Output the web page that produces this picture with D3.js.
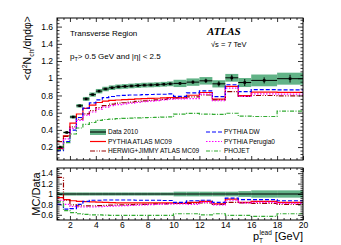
<!DOCTYPE html>
<html>
<head>
<meta charset="utf-8">
<script src="https://cdn.jsdelivr.net/npm/d3@7"></script>
<style>
body { margin: 0; background: #fff; }
text { font-family: "Liberation Sans", Arial, sans-serif; fill: #000; }
</style>
</head>
<body>
<script>
// bin edges in pT lead [GeV]
const binEdges = [1, 1.5, 2, 2.5, 3, 3.5, 4, 4.5, 5, 5.5, 6, 6.5, 7, 7.5, 8, 8.5, 9, 9.5, 10,
                  11, 12, 13, 14, 15, 16, 18, 20]

// data 2010, <d2N/dEta dPhi>
const dataVals = [0.20, 0.37, 0.55, 0.68, 0.76, 0.81, 0.85, 0.875, 0.89, 0.90, 0.905, 0.91, 0.915, 0.92, 0.922, 0.925, 0.93, 0.935,
                  0.94, 0.955, 0.97, 0.935, 1.005, 0.95, 0.975, 0.995]
const dataStat = [0.003, 0.003, 0.003, 0.003, 0.003, 0.004, 0.004, 0.004, 0.005, 0.005, 0.006, 0.006, 0.007, 0.008, 0.009, 0.01, 0.011, 0.012,
                  0.015, 0.02, 0.025, 0.03, 0.035, 0.04, 0.035, 0.045]
// relative total uncertainty (green band)
const dataSyst = [0.03, 0.03, 0.03, 0.03, 0.03, 0.03, 0.03, 0.03, 0.03, 0.03, 0.03, 0.03, 0.03, 0.03, 0.03, 0.03, 0.03, 0.03,
                  0.045, 0.045, 0.045, 0.045, 0.045, 0.055, 0.07, 0.07]

// MC / Data ratios (lower panel)
const ratioMC09 = [0.93, 0.89, 0.87, 0.86, 0.855, 0.85, 0.845, 0.84, 0.835, 0.83, 0.83, 0.83, 0.83, 0.83, 0.83, 0.83, 0.83, 0.83,
                   0.82, 0.84, 0.86, 0.81, 0.90, 0.84, 0.86, 0.84]
const ratioDW = [0.80, 0.71, 0.72, 0.80, 0.86, 0.88, 0.88, 0.885, 0.885, 0.885, 0.885, 0.885, 0.88, 0.88, 0.88, 0.88, 0.875, 0.875,
                 0.84, 0.87, 0.88, 0.84, 0.92, 0.89, 0.89, 0.87]
const ratioPerugia0 = [0.88, 0.80, 0.76, 0.75, 0.75, 0.75, 0.755, 0.76, 0.765, 0.77, 0.775, 0.78, 0.785, 0.79, 0.795, 0.80, 0.805, 0.81,
                       0.81, 0.80, 0.84, 0.79, 0.88, 0.83, 0.84, 0.82]
const ratioHerwig = [1.32, 0.88, 0.79, 0.77, 0.77, 0.77, 0.775, 0.78, 0.785, 0.79, 0.79, 0.795, 0.80, 0.80, 0.805, 0.81, 0.81, 0.815,
                     0.82, 0.82, 0.83, 0.80, 0.84, 0.83, 0.82, 0.80]
const ratioPhojet = [0.85, 0.68, 0.64, 0.62, 0.61, 0.60, 0.60, 0.595, 0.59, 0.59, 0.59, 0.59, 0.59, 0.59, 0.59, 0.59, 0.59, 0.59,
                     0.62, 0.62, 0.60, 0.62, 0.59, 0.59, 0.57, 0.62]

const mainYTicks = [0.2, 0.4, 0.6, 0.8, 1, 1.2, 1.4, 1.6]
const ratioYTicks = [0.6, 0.8, 1, 1.2, 1.4]
const xTicks = [2, 4, 6, 8, 10, 12, 14, 16, 18, 20]

const series = [
  {name: "PYTHIA ATLAS MC09", ratio: ratioMC09, color: "#ff0000", dash: null},
  {name: "HERWIG+JIMMY ATLAS MC09", ratio: ratioHerwig, color: "#990000", dash: "5,1.5,1,1.5,1,1.5"},
  {name: "PYTHIA DW", ratio: ratioDW, color: "#0000ff", dash: "4,2"},
  {name: "PYTHIA Perugia0", ratio: ratioPerugia0, color: "#ff00ff", dash: "1.5,1.5"},
  {name: "PHOJET", ratio: ratioPhojet, color: "#33aa33", dash: "4,1.5,1,1.5"}
]
const bandColor = "#62b387"

const W = 341, H = 245
const left = 57, right = 303
const mainTop = 18, mainBottom = 160
const ratTop = 168, ratBottom = 220

const svg = d3.select("body").append("svg").attr("width", W).attr("height", H)

const x = d3.scaleLinear().domain([1, 20]).range([left, right])
const yMain = d3.scaleLinear().domain([0.05, 1.7]).range([mainBottom, mainTop])
const yRat = d3.scaleLinear().domain([0.5, 1.5]).range([ratBottom, ratTop])

const nb = dataVals.length
const centers = d3.range(nb).map(i => (binEdges[i] + binEdges[i + 1]) / 2)

const defs = svg.append("defs")
defs.append("clipPath").attr("id", "clipMain").append("rect")
    .attr("x", left).attr("y", mainTop).attr("width", right - left).attr("height", mainBottom - mainTop)
defs.append("clipPath").attr("id", "clipRat").append("rect")
    .attr("x", left).attr("y", ratTop).attr("width", right - left).attr("height", ratBottom - ratTop)

function stepPath(vals, y) {
  const pts = binEdges.map((e, i) => [e, vals[Math.min(i, vals.length - 1)]])
  return d3.line().x(d => x(d[0])).y(d => y(d[1])).curve(d3.curveStepAfter)(pts)
}

// ---------- main panel ----------
const gMain = svg.append("g").attr("clip-path", "url(#clipMain)")

gMain.selectAll("rect.band")
  .data(d3.range(nb))
  .enter().append("rect")
    .attr("x", i => x(binEdges[i]))
    .attr("width", i => x(binEdges[i + 1]) - x(binEdges[i]))
    .attr("y", i => yMain(dataVals[i] * (1 + dataSyst[i])))
    .attr("height", i => yMain(dataVals[i] * (1 - dataSyst[i])) - yMain(dataVals[i] * (1 + dataSyst[i])))
    .attr("fill", bandColor)

series.forEach(s => {
  const vals = s.ratio.map((r, i) => r * dataVals[i])
  gMain.append("path")
    .attr("d", stepPath(vals, yMain))
    .attr("fill", "none")
    .attr("stroke", s.color)
    .attr("stroke-width", 1.2)
    .attr("stroke-dasharray", s.dash)
})

// data points
gMain.selectAll("line.hbar")
  .data(d3.range(nb))
  .enter().append("line")
    .attr("x1", i => x(binEdges[i])).attr("x2", i => x(binEdges[i + 1]))
    .attr("y1", i => yMain(dataVals[i])).attr("y2", i => yMain(dataVals[i]))
    .attr("stroke", "#000").attr("stroke-width", 1)
gMain.selectAll("line.vbar")
  .data(d3.range(nb))
  .enter().append("line")
    .attr("x1", i => x(centers[i])).attr("x2", i => x(centers[i]))
    .attr("y1", i => yMain(dataVals[i] - dataStat[i])).attr("y2", i => yMain(dataVals[i] + dataStat[i]))
    .attr("stroke", "#000").attr("stroke-width", 1)
gMain.selectAll("rect.marker")
  .data(d3.range(nb))
  .enter().append("rect")
    .attr("x", i => x(centers[i]) - 1.3).attr("y", i => yMain(dataVals[i]) - 1.3)
    .attr("width", 2.6).attr("height", 2.6)
    .attr("fill", "#000")

// ---------- ratio panel ----------
const gRat = svg.append("g").attr("clip-path", "url(#clipRat)")

gRat.selectAll("rect.band")
  .data(d3.range(nb))
  .enter().append("rect")
    .attr("x", i => x(binEdges[i]))
    .attr("width", i => x(binEdges[i + 1]) - x(binEdges[i]))
    .attr("y", i => yRat(1 + dataSyst[i]))
    .attr("height", i => yRat(1 - dataSyst[i]) - yRat(1 + dataSyst[i]))
    .attr("fill", bandColor)

gRat.append("line")
  .attr("x1", left).attr("x2", right)
  .attr("y1", yRat(1)).attr("y2", yRat(1))
  .attr("stroke", "#000").attr("stroke-width", 1.2)

series.forEach(s => {
  gRat.append("path")
    .attr("d", stepPath(s.ratio, yRat))
    .attr("fill", "none")
    .attr("stroke", s.color)
    .attr("stroke-width", 1.2)
    .attr("stroke-dasharray", s.dash)
})

// ---------- axes (ROOT style, ticks inside) ----------
function minorsOf(lo, hi, step, majors) {
  return d3.range(Math.ceil(lo / step - 1e-9) * step, hi + 1e-9, step)
    .map(v => +v.toFixed(4))
    .filter(v => !majors.some(m => Math.abs(m - v) < 1e-6))
}

function yAxes(y, majors, minorStep, x0, x1) {
  const dom = y.domain()
  const minors = minorsOf(dom[0], dom[1], minorStep, majors)
  const fmt = d => d === 1 ? "1" : d.toFixed(1)
  const g = svg.append("g")
  g.append("g").attr("transform", `translate(${x0},0)`)
    .call(d3.axisLeft(y).tickValues(majors).tickFormat(fmt).tickSize(-5).tickPadding(4))
  g.append("g").attr("transform", `translate(${x0},0)`)
    .call(d3.axisLeft(y).tickValues(minors).tickFormat("").tickSize(-2.5))
  g.append("g").attr("transform", `translate(${x1},0)`)
    .call(d3.axisRight(y).tickValues(majors).tickFormat("").tickSize(-5))
  g.append("g").attr("transform", `translate(${x1},0)`)
    .call(d3.axisRight(y).tickValues(minors).tickFormat("").tickSize(-2.5))
  return g
}

function xAxes(y0, y1, labels) {
  const minors = minorsOf(1, 20, 0.5, xTicks)
  const g = svg.append("g")
  g.append("g").attr("transform", `translate(0,${y0})`)
    .call(d3.axisBottom(x).tickValues(xTicks).tickFormat(labels ? d3.format("d") : "").tickSize(-4).tickPadding(1.5))
  g.append("g").attr("transform", `translate(0,${y0})`)
    .call(d3.axisBottom(x).tickValues(minors).tickFormat("").tickSize(-2))
  g.append("g").attr("transform", `translate(0,${y1})`)
    .call(d3.axisTop(x).tickValues(xTicks).tickFormat("").tickSize(-4))
  g.append("g").attr("transform", `translate(0,${y1})`)
    .call(d3.axisTop(x).tickValues(minors).tickFormat("").tickSize(-2))
  return g
}

yAxes(yMain, mainYTicks, 0.04, left, right)
yAxes(yRat, ratioYTicks, 0.04, left, right)
xAxes(mainBottom, mainTop, false)
xAxes(ratBottom, ratTop, true)

svg.selectAll(".domain").remove()
svg.selectAll(".tick line").attr("stroke", "#000").attr("stroke-width", 0.8)
svg.selectAll(".tick text").attr("font-size", 8.5).attr("font-family", "Liberation Sans, Arial, sans-serif").attr("fill", "#000")

// frames
svg.append("rect").attr("x", left).attr("y", mainTop).attr("width", right - left).attr("height", mainBottom - mainTop)
  .attr("fill", "none").attr("stroke", "#000").attr("stroke-width", 1)
svg.append("rect").attr("x", left).attr("y", ratTop).attr("width", right - left).attr("height", ratBottom - ratTop)
  .attr("fill", "none").attr("stroke", "#000").attr("stroke-width", 1)

// ---------- titles ----------
const yt = svg.append("text")
  .attr("transform", `translate(31,16) rotate(-90)`)
  .attr("text-anchor", "end")
  .attr("font-size", 10.5)
yt.append("tspan").text("<d")
yt.append("tspan").attr("dy", -4).attr("font-size", 7).text("2")
yt.append("tspan").attr("dy", 4).text("N")
yt.append("tspan").attr("dy", 2.5).attr("font-size", 7).text("ch")
yt.append("tspan").attr("dy", -2.5).text("/dηdφ>")

svg.append("text")
  .attr("transform", `translate(40,${(ratTop + ratBottom) / 2}) rotate(-90)`)
  .attr("text-anchor", "middle")
  .attr("font-size", 11)
  .text("MC/Data")

const xt = svg.append("text")
  .attr("x", right).attr("y", 240)
  .attr("text-anchor", "end")
  .attr("font-size", 11)
xt.append("tspan").text("p")
xt.append("tspan").attr("dy", 2.5).attr("font-size", 6.5).text("T")
xt.append("tspan").attr("dx", -3.5).attr("dy", -8).attr("font-size", 6.5).text("lead")
xt.append("tspan").attr("dy", 5.5).text(" [GeV]")

svg.append("text").attr("x", 70).attr("y", 36).attr("font-size", 8).text("Transverse Region")
const cut = svg.append("text").attr("x", 70).attr("y", 59).attr("font-size", 8)
cut.append("tspan").text("p")
cut.append("tspan").attr("dy", 2).attr("font-size", 5.5).text("T")
cut.append("tspan").attr("dy", -2).text("> 0.5  GeV and |η| < 2.5")

svg.append("text").attr("x", 207).attr("y", 35)
  .attr("font-size", 11).attr("font-weight", "bold").attr("font-style", "italic")
  .style("font-family", "Liberation Serif, Times New Roman, serif")
  .text("ATLAS")
svg.append("text").attr("x", 211).attr("y", 47).attr("font-size", 7.5).text("√s = 7 TeV")

// ---------- legend ----------
const legendItems = [
  {label: "Data 2010", col: 0, row: 0, data: true},
  {label: series[0].name, col: 0, row: 1, s: series[0]},
  {label: series[1].name, col: 0, row: 2, s: series[1]},
  {label: series[2].name, col: 1, row: 0, s: series[2]},
  {label: series[3].name, col: 1, row: 1, s: series[3]},
  {label: series[4].name, col: 1, row: 2, s: series[4]}
]
const legX = [90, 206], legY = [132, 141.5, 151]
legendItems.forEach(d => {
  const lx = legX[d.col], ly = legY[d.row]
  if (d.data) {
    svg.append("rect").attr("x", lx).attr("y", ly - 3).attr("width", 16).attr("height", 6).attr("fill", bandColor)
    svg.append("line").attr("x1", lx).attr("x2", lx + 16).attr("y1", ly).attr("y2", ly)
      .attr("stroke", "#000").attr("stroke-width", 1.1)
  } else {
    svg.append("line").attr("x1", lx).attr("x2", lx + 16).attr("y1", ly).attr("y2", ly)
      .attr("stroke", d.s.color).attr("stroke-width", 1.2).attr("stroke-dasharray", d.s.dash)
  }
  svg.append("text").attr("x", lx + 18).attr("y", ly + 2.4).attr("font-size", 6.5).text(d.label)
})
</script>
</body>
</html>
